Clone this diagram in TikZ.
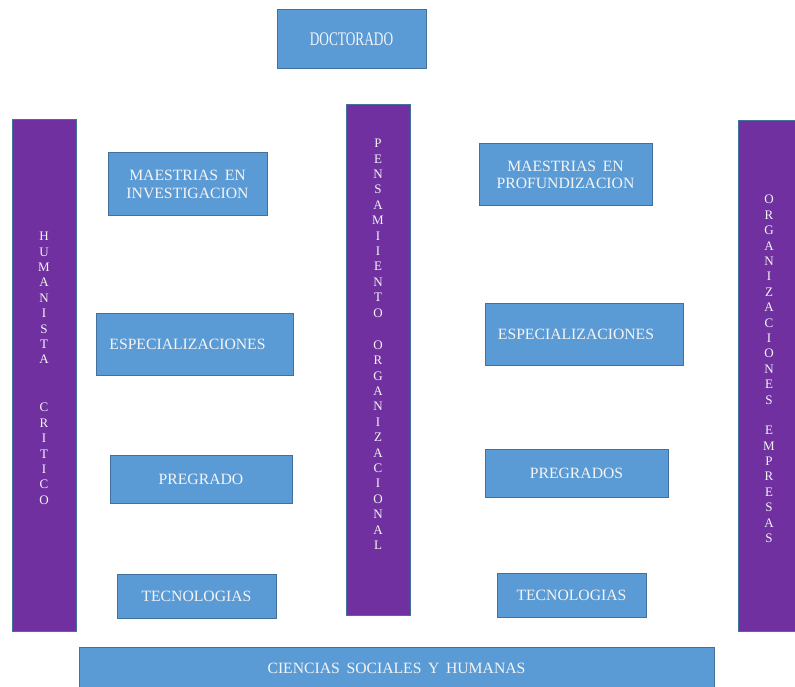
\documentclass[tikz,border=0pt]{standalone}
\usepackage{fontspec}
\setmainfont{Liberation Serif}
\definecolor{boxblue}{HTML}{5B9BD5}
\definecolor{boxedge}{HTML}{41719C}
\definecolor{barpurple}{HTML}{7030A0}
\definecolor{txtcol}{HTML}{F4F4F4}
\newcommand\wsp{\hspace{0.42em}}
\begin{document}
\begin{tikzpicture}[x=1pt,y=-1pt,
  bbox/.style={draw=boxedge, fill=boxblue, line width=1pt, inner sep=0pt,
    text=txtcol, font=\fontsize{15.7}{17.5}\selectfont, align=center},
  vbar/.style={draw=boxedge, fill=barpurple, line width=1pt, inner sep=0pt},
  vtext/.style={text=txtcol, font=\fontsize{13}{15.4}\selectfont, align=center,
    inner sep=0pt, anchor=north},
  btext/.style={text=txtcol, font=\fontsize{15.7}{17.5}\selectfont, inner sep=0pt}]
\useasboundingbox (0,0) rectangle (795,687);
\fill[white] (0,0) rectangle (795,687);

% top
\node[bbox, minimum width=149, minimum height=59] (doc) at (351.5,39.5)
  {\scalebox{0.76}[1.1]{\fontsize{17.5}{17.5}\selectfont DOCTORADO}};

% bars
\node[vbar, minimum width=64, minimum height=511] (hum) at (44,375.5) {};
\node[vbar, minimum width=64, minimum height=510] (pen) at (378,360) {};
\node[vbar, minimum width=62, minimum height=510] (org) at (769,376) {};

\node[vtext] (humA) at (44,232) {H\\U\\M\\A\\N\\I\\S\\T\\A};
\node[vtext] (humB) at (44,403) {C\\R\\I\\T\\I\\C\\O};
\node[vtext] (penA) at (378,139) {P\\E\\N\\S\\A\\M\\I\\I\\E\\N\\T\\O};
\node[vtext] (penB) at (378,340.5) {O\\R\\G\\A\\N\\I\\Z\\A\\C\\I\\O\\N\\A\\L};
\node[vtext] (orgA) at (769,195) {O\\R\\G\\A\\N\\I\\Z\\A\\C\\I\\O\\N\\E\\S};
\node[vtext] (orgB) at (769,426) {E\\M\\P\\R\\E\\S\\A\\S};

% left column
\node[bbox, minimum width=159, minimum height=63] (mi) at (187.5,184.5)
  {MAESTRIAS\wsp EN\\INVESTIGACION};
\node[bbox, minimum width=197, minimum height=62] (el) at (194.5,344)
  {ESPECIALIZACIONES\hspace*{14pt}};
\node[bbox, minimum width=182, minimum height=48] (pl) at (201,479)
  {PREGRADO};
\node[bbox, minimum width=159, minimum height=44] (tl) at (196.5,596)
  {TECNOLOGIAS};

% right column
\node[bbox, minimum width=173, minimum height=62] (mp) at (565.5,175)
  {MAESTRIAS\wsp EN\\PROFUNDIZACION};
\node[bbox, minimum width=198, minimum height=62] (er) at (584,334)
  {ESPECIALIZACIONES\hspace*{16pt}};
\node[bbox, minimum width=183, minimum height=48] (pr) at (576.5,473)
  {PREGRADOS};
\node[bbox, minimum width=149, minimum height=44] (tr) at (571.5,595)
  {TECNOLOGIAS};

% bottom
\node[bbox, minimum width=635, minimum height=56] (cs) at (396.5,675) {};
\node[btext] (cst) at (396.5,668)
  {CIENCIAS\wsp SOCIALES\wsp Y\wsp HUMANAS};
\end{tikzpicture}
\end{document}
